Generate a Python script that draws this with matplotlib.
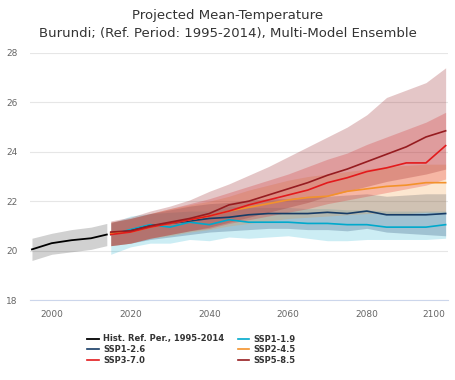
import numpy as np
import matplotlib
matplotlib.use('Agg')
import matplotlib.pyplot as plt

# historical reference period
hist_years = [1995, 2000, 2005, 2010, 2014]
hist_mean = [20.05, 20.3, 20.42, 20.5, 20.65]
hist_low = [19.6, 19.85, 19.95, 20.05, 20.2]
hist_high = [20.5, 20.7, 20.85, 20.95, 21.1]

# projections, 5-year steps
years = [2015, 2020, 2025, 2030, 2035, 2040, 2045, 2050, 2055,
         2060, 2065, 2070, 2075, 2080, 2085, 2090, 2095, 2100]

ssp119_mean = [20.65, 20.85, 21.05, 20.95, 21.15, 21.05, 21.25, 21.15, 21.15,
               21.15, 21.1, 21.1, 21.05, 21.05, 20.95, 20.95, 20.95, 21.05]
ssp119_low = [19.85, 20.15, 20.3, 20.3, 20.45, 20.4, 20.55, 20.5, 20.55,
              20.6, 20.5, 20.4, 20.4, 20.45, 20.45, 20.45, 20.45, 20.5]
ssp119_high = [21.1, 21.4, 21.5, 21.55, 21.6, 21.6, 21.8, 21.75, 21.75,
               21.75, 21.7, 21.7, 21.65, 21.65, 21.6, 21.6, 21.6, 21.6]

ssp126_mean = [20.7, 20.8, 21.0, 21.1, 21.2, 21.3, 21.35, 21.45, 21.5,
               21.5, 21.5, 21.55, 21.5, 21.6, 21.45, 21.45, 21.45, 21.5]
ssp126_low = [20.2, 20.3, 20.45, 20.55, 20.65, 20.75, 20.8, 20.85, 20.9,
              20.9, 20.85, 20.85, 20.8, 20.9, 20.75, 20.7, 20.65, 20.6]
ssp126_high = [21.15, 21.3, 21.5, 21.65, 21.8, 21.9, 21.95, 22.05, 22.1,
               22.1, 22.2, 22.2, 22.25, 22.3, 22.2, 22.25, 22.3, 22.3]

ssp245_mean = [20.7, 20.75, 20.95, 21.1, 21.25, 21.4, 21.6, 21.75, 21.9,
               22.05, 22.15, 22.2, 22.4, 22.5, 22.6, 22.65, 22.75, 22.75]
ssp245_low = [20.2, 20.3, 20.5, 20.6, 20.75, 20.85, 21.0, 21.1, 21.2,
              21.3, 21.35, 21.4, 21.45, 21.5, 21.5, 21.5, 21.55, 21.55]
ssp245_high = [21.15, 21.3, 21.5, 21.7, 21.85, 22.0, 22.2, 22.45, 22.65,
               22.85, 23.0, 23.1, 23.2, 23.3, 23.4, 23.45, 23.5, 23.5]

ssp370_mean = [20.65, 20.75, 20.95, 21.1, 21.25, 21.4, 21.6, 21.85, 22.05,
               22.25, 22.45, 22.75, 22.95, 23.2, 23.35, 23.55, 23.55, 24.25]
ssp370_low = [20.2, 20.3, 20.5, 20.65, 20.8, 20.9, 21.1, 21.25, 21.4,
              21.55, 21.7, 21.9, 22.05, 22.2, 22.35, 22.5, 22.65, 22.9]
ssp370_high = [21.15, 21.3, 21.5, 21.7, 21.9, 22.1, 22.35, 22.6, 22.85,
               23.1, 23.4, 23.7, 23.95, 24.3, 24.6, 24.9, 25.2, 25.6]

ssp585_mean = [20.75, 20.8, 21.0, 21.15, 21.3, 21.5, 21.85, 22.0, 22.25,
               22.5, 22.75, 23.05, 23.3, 23.6, 23.9, 24.2, 24.6, 24.85]
ssp585_low = [20.2, 20.3, 20.5, 20.65, 20.8, 20.95, 21.15, 21.35, 21.55,
              21.75, 21.95, 22.2, 22.4, 22.6, 22.8, 22.95, 23.1, 23.3]
ssp585_high = [21.2, 21.35, 21.6, 21.8, 22.05, 22.4, 22.7, 23.05, 23.4,
               23.8, 24.2, 24.6, 25.0, 25.5, 26.2, 26.5, 26.8, 27.4]

scenarios = [
    ('SSP1-1.9', '#00a9cc', ssp119_mean, ssp119_low, ssp119_high, 0.2),
    ('SSP1-2.6', '#173c66', ssp126_mean, ssp126_low, ssp126_high, 0.24),
    ('SSP2-4.5', '#f3922b', ssp245_mean, ssp245_low, ssp245_high, 0.22),
    ('SSP3-7.0', '#e31a1c', ssp370_mean, ssp370_low, ssp370_high, 0.24),
    ('SSP5-8.5', '#961c20', ssp585_mean, ssp585_low, ssp585_high, 0.25),
]

fig = plt.figure(figsize=(4.56, 3.80), dpi=100)
ax = fig.add_axes([30 / 456, 1 - 300 / 380, 418 / 456, 247 / 380])

fig.text(0.5, 1 - 15 / 380, 'Projected Mean-Temperature', ha='center',
         va='center', fontsize=9.5, color='#333333')
fig.text(0.5, 1 - 33 / 380,
         'Burundi; (Ref. Period: 1995-2014), Multi-Model Ensemble',
         ha='center', va='center', fontsize=9.5, color='#333333')

ax.fill_between(hist_years, hist_low, hist_high, color='black', alpha=0.18,
                lw=0)
handles = {}
handles['hist'], = ax.plot(hist_years, hist_mean, color='black', lw=1.3,
                           label='Hist. Ref. Per., 1995-2014', zorder=5)

for name, col, mean, low, high, a in scenarios:
    ax.fill_between(years, low, high, color=col, alpha=a, lw=0)
for name, col, mean, low, high, a in scenarios:
    handles[name], = ax.plot(years, mean, color=col, lw=1.2, label=name,
                             zorder=5)

ax.set_xlim(1994.5, 2100.6)
ax.set_ylim(18, 28)
ax.set_yticks([18, 20, 22, 24, 26, 28])
ax.set_xticks([2000, 2020, 2040, 2060, 2080, 2100])
ax.grid(axis='y', color='#e6e6e6', lw=0.8)
ax.set_axisbelow(True)
for side in ['left', 'right', 'top']:
    ax.spines[side].set_visible(False)
ax.spines['bottom'].set_color('#ccd6eb')
ax.spines['bottom'].set_linewidth(0.8)
ax.tick_params(length=0, labelsize=6.5, labelcolor='#666666')
ax.tick_params(axis='y', pad=9)
ax.tick_params(axis='x', pad=7)
ax.get_xticklabels()[-1].set_horizontalalignment('right')

order = ['hist', 'SSP1-2.6', 'SSP3-7.0', 'SSP1-1.9', 'SSP2-4.5', 'SSP5-8.5']
leg = fig.legend([handles[k] for k in order],
                 [handles[k].get_label() for k in order],
                 loc='upper left', bbox_to_anchor=(80 / 456, 1 - 327 / 380),
                 ncol=2, frameon=False, handlelength=1.4, handletextpad=0.5,
                 columnspacing=1.6, labelspacing=0.2,
                 prop={'size': 6.0, 'weight': 'bold'})
for t in leg.get_texts():
    t.set_color('#333333')

fig.savefig('out.png', dpi=100)
